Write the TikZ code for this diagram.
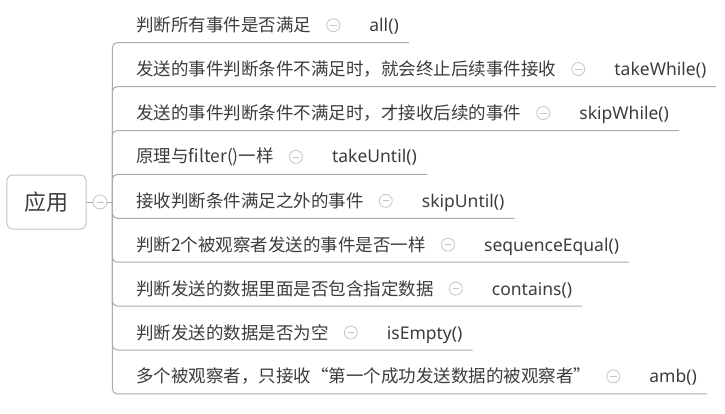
\documentclass[tikz,border=0pt]{standalone}
\usepackage{fontspec}
\newfontfamily\cjk{Noto Sans CJK SC}
\newfontfamily\latn{Noto Sans}
\usetikzlibrary{positioning}
\definecolor{txtgray}{HTML}{3C3C3C}
\definecolor{linegray}{HTML}{ABABAB}
\definecolor{dotgray}{HTML}{C4C4C4}
\tikzset{topic/.style={font=\cjk\fontsize{17.5bp}{20bp}\selectfont, text=txtgray, inner sep=0pt, anchor=west},
func/.style={font=\latn\fontsize{17.5bp}{20bp}\selectfont, text=txtgray, inner sep=0pt},
%small collapse circle with a minus sign
fold/.style={circle, draw=dotgray, line width=0.8bp, minimum size=#1, inner sep=0pt,
  path picture={\draw[dotgray, line width=0.8bp] ([xshift=-0.25*#1]path picture bounding box.center) -- ([xshift=0.25*#1]path picture bounding box.center);}},
fold/.default={13bp},
branch/.style={draw=linegray, line width=1bp, rounded corners=5bp}}

\begin{document}
\begin{tikzpicture}[x=1bp, y=-1bp]
\useasboundingbox (0,0) rectangle (725,413);

\node[draw=dotgray, line width=1bp, rounded corners=5bp, minimum width=79bp, minimum height=54bp,
  font=\cjk\fontsize{22bp}{26bp}\selectfont, text=txtgray] (root) at (46.5,202) {应用};
\node[fold=14bp] (rootfold) at (100,202) {};
\coordinate (hub) at (112.3,202);

\draw[branch] (root) -- (rootfold) -- (hub);

\foreach \i/\t/\f in {0/判断所有事件是否满足/all(),
    1/发送的事件判断条件不满足时，就会终止后续事件接收/takeWhile(),
    2/发送的事件判断条件不满足时，才接收后续的事件/skipWhile(),
    3/原理与filter()一样/takeUntil(),
    4/接收判断条件满足之外的事件/skipUntil(),
    5/判断2个被观察者发送的事件是否一样/sequenceEqual(),
    6/判断发送的数据里面是否包含指定数据/contains(),
    7/判断发送的数据是否为空/isEmpty(),
    8/多个被观察者，只接收“第一个成功发送数据的被观察者”/amb()}
{
    \node[topic] (t\i) at (136,25.2+43.9*\i) {\t};
    \node[fold, right=15bp of t\i] (c\i) {};
    \node[func, anchor=base west] (f\i) at ([xshift=29bp]c\i.east |- t\i.base) {\f};
    \coordinate (e\i) at (0,42.7+43.9*\i -| f\i.east);
    \draw[branch] (hub) |- ([xshift=10bp]e\i);
}

\end{tikzpicture}
\end{document}
